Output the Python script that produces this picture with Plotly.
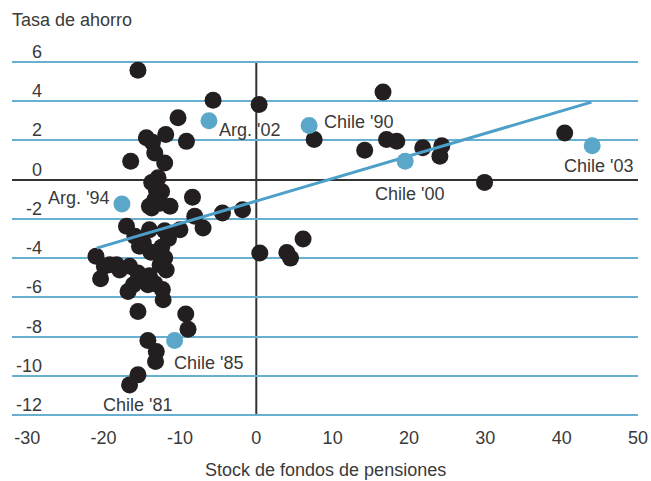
import plotly.graph_objects as go

# Black dots (other country-years)
black_x = [-15.5, -5.66, 0.37, 16.6, -10.25, -11.86, -14.4, -13.6, -9.15, -13.3,
           -12.0, -16.45, -12.87, -13.1, -13.3, -13.7, -8.36, -11.3, -8.06, -10.0,
           -6.97, -4.43, -1.8, -17.0, -15.9, -14.8, -12.4, -21.0, -19.9, -18.3,
           -16.6, -12.6, -20.4, -14.0, -12.3, -16.1, -16.8, -14.2, -12.2, -15.5,
           -9.24, -8.94, -14.2, -13.1, -13.2, -15.5, -16.6, 7.58, 0.46, 4.0,
           4.48, 6.13, 14.2, 17.06, 18.4, 21.8, 24.3, 24.05, 29.9, 40.4,
           -13.7, -12.4, -14.0, -14.0, -15.3, -12.0, -11.5, -13.8, -12.0, -15.5,
           -19.2, -17.9, -13.3, -12.6, -11.8]
black_y = [5.58, 4.05, 3.83, 4.46, 3.15, 2.3, 2.13, 1.9, 1.95, 1.36,
           0.85, 0.94, 0.09, -0.51, -1.02, -1.45, -0.9, -1.36, -1.87, -2.55,
           -2.47, -1.7, -1.53, -2.38, -2.89, -3.23, -3.45, -3.91, -4.42, -4.34,
           -4.42, -4.34, -5.05, -4.9, -5.6, -5.36, -5.7, -5.36, -6.12, -6.72,
           -6.85, -7.62, -8.2, -8.76, -9.27, -9.95, -10.46, 2.04, -3.74, -3.71,
           -4.0, -3.03, 1.5, 2.04, 1.96, 1.62, 1.73, 1.19, -0.14, 2.38,
           -0.15, -0.6, -1.36, -2.55, -3.4, -2.6, -3.0, -3.7, -4.0, -4.76,
           -4.34, -4.6, -5.3, -1.2, -4.6]

# Highlighted (blue) country-years
hl_labels = ["Arg. '94", "Arg. '02", "Chile '90", "Chile '00", "Chile '03", "Chile '85"]
hl_x = [-17.6, -6.2, 6.92, 19.5, 44.0, -10.7]
hl_y = [-1.24, 3.0, 2.76, 0.94, 1.73, -8.2]

# Labelled black point
chile81_x = -16.6
chile81_y = -10.46

# Regression line endpoints
trend_x = [-20.9, 43.9]
trend_y = [-3.49, 3.95]

y_ticks = [6, 4, 2, 0, -2, -4, -6, -8, -10, -12]
x_ticks = [-30, -20, -10, 0, 10, 20, 30, 40, 50]

FONT = "Liberation Sans"
TXT = "#3a3a3a"
BLUE = "#5aa7c9"

fig = go.Figure()
fig.add_trace(go.Scatter(x=black_x, y=black_y, mode="markers",
                         marker=dict(size=17, color="#231f20", line=dict(width=0)),
                         hoverinfo="skip", showlegend=False))
fig.add_trace(go.Scatter(x=trend_x, y=trend_y, mode="lines",
                         line=dict(color="#4c9fc8", width=3),
                         hoverinfo="skip", showlegend=False))
fig.add_trace(go.Scatter(x=hl_x, y=hl_y, mode="markers",
                         marker=dict(size=17, color=BLUE, line=dict(width=0)),
                         hoverinfo="skip", showlegend=False))

label_pos = {
    "Arg. '94": dict(xanchor="right", yanchor="middle", xshift=-11, yshift=6),
    "Arg. '02": dict(xanchor="left", yanchor="middle", xshift=8, yshift=-9),
    "Chile '90": dict(xanchor="left", yanchor="middle", xshift=13, yshift=3),
    "Chile '00": dict(xanchor="center", yanchor="middle", xshift=4, yshift=-33),
    "Chile '03": dict(xanchor="center", yanchor="middle", xshift=6, yshift=-20),
    "Chile '85": dict(xanchor="left", yanchor="middle", xshift=-3, yshift=-22),
}
anns = []
for lab, x, y in zip(hl_labels, hl_x, hl_y):
    p = label_pos[lab]
    anns.append(dict(x=x, y=y, xref="x", yref="y", text=lab, showarrow=False,
                     font=dict(family=FONT, size=18, color=TXT), **p))
anns.append(dict(x=chile81_x, y=chile81_y, xref="x", yref="y", text="Chile '81",
                 showarrow=False, xanchor="center", yanchor="middle",
                 xshift=8, yshift=-20, font=dict(family=FONT, size=18, color=TXT)))

for t in y_ticks:
    anns.append(dict(x=0.0511, y=t, xref="paper", yref="y", text=str(t),
                     showarrow=False, xanchor="right", yanchor="bottom", yshift=-2,
                     font=dict(family=FONT, size=18, color=TXT)))

anns.append(dict(x=-0.003, y=1.103, xref="paper", yref="paper", text="Tasa de ahorro",
                 showarrow=False, xanchor="left", yanchor="middle",
                 font=dict(family=FONT, size=18, color=TXT)))
anns.append(dict(x=0.5, y=-0.138, xref="paper", yref="paper",
                 text="Stock de fondos de pensiones", showarrow=False,
                 xanchor="center", yanchor="middle",
                 font=dict(family=FONT, size=18, color=TXT)))

fig.add_shape(type="line", xref="x", yref="y", x0=0, x1=0,
              y0=y_ticks[-1], y1=y_ticks[0],
              line=dict(color="#333333", width=2), layer="below")

fig.update_layout(
    width=651, height=481,
    margin=dict(l=12, r=13, t=57, b=61, autoexpand=False),
    paper_bgcolor="white", plot_bgcolor="white",
    annotations=anns,
    xaxis=dict(range=[-32, 50], tickvals=x_ticks, ticktext=[str(v) for v in x_ticks],
               showgrid=False, zeroline=False, ticklabelstandoff=5, automargin=False,
               showline=False, ticks="", tickfont=dict(family=FONT, size=18, color=TXT)),
    yaxis=dict(range=[-12.25, 6.25], tickvals=y_ticks, showticklabels=False,
               showgrid=True, gridcolor="#68b0d2", gridwidth=1.5, automargin=False,
               zeroline=True, zerolinecolor="#333333", zerolinewidth=2,
               showline=False, ticks=""),
)

fig.write_html("out.html", config={"displayModeBar": False},
               post_script="document.body.style.margin='0';document.body.style.overflow='hidden';")
